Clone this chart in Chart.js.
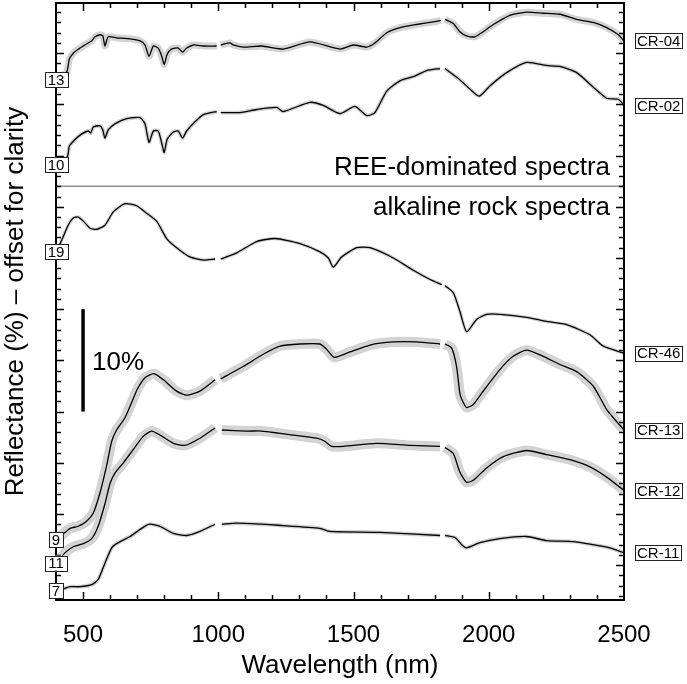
<!DOCTYPE html>
<html>
<head>
<meta charset="utf-8">
<script src="https://cdn.jsdelivr.net/npm/chart.js@4.4.1/dist/chart.umd.min.js"></script>
<style>
  html, body { margin: 0; padding: 0; background: #fff; }
  #wrap { width: 687px; height: 684px; position: relative; }
</style>
</head>
<body>
<div id="wrap"><canvas id="spectra"></canvas></div>
<script>
// wavelength (nm) and reflectance (%); null = detector splice gap
const cr04Wl = [400,440,449,464,489,519,532,544,563,573,581,593,624,674,711,729,744,760,778,791,800,811,827,852,868,883,908,945,994,1000,1009,1043,1055,1092,1160,1240,1339,1450,1499,1549,1579,1623,1672,1733,1807,1823,1830,1838,1869,1893,1918,1949,1974,2017,2078,2140,2201,2263,2325,2386,2436,2479,2500];
const cr04R = [12.6,13.4,14.6,15.2,15.7,16.2,16.4,16.8,17.0,16.9,15.9,16.8,16.7,16.6,16.4,16.0,14.9,15.9,15.7,14.9,14.1,15.1,15.6,15.7,15.3,15.7,16.0,15.9,15.9,null,16.0,16.2,16.0,15.8,15.9,15.6,16.3,15.6,16.0,15.8,16.2,17.2,17.7,18.0,18.3,18.4,null,18.5,18.1,17.3,16.9,16.8,17.2,18.0,18.9,19.2,19.1,19.0,18.5,18.2,17.7,17.0,16.4];

const cr02Wl = [400,442,449,464,489,519,528,538,563,573,581,593,618,661,711,729,744,760,778,791,800,811,834,852,868,883,914,945,994,1000,1009,1080,1142,1216,1240,1339,1388,1450,1505,1549,1579,1623,1672,1721,1770,1820,1830,1838,1893,1930,1965,2004,2066,2140,2214,2263,2325,2386,2436,2479,2500];
const cr02R = [9.8,10.6,11.6,12.1,12.7,13.1,12.9,13.5,13.6,13.2,12.4,13.2,13.8,14.3,14.4,13.8,12.0,13.1,13.1,11.9,11.0,12.3,13.0,13.1,12.4,13.1,14.0,14.7,15.0,null,14.9,14.9,15.2,15.4,15.0,15.9,15.6,14.8,15.5,14.6,14.9,17.0,18.0,18.4,19.0,19.2,null,19.2,18.1,17.2,16.5,17.5,18.8,19.8,19.5,19.4,18.8,17.4,16.3,16.2,15.6];

const cr46Wl = [400,417,427,445,464,482,501,526,550,581,612,655,698,729,772,809,846,895,945,988,1000,1009,1068,1142,1210,1302,1376,1407,1425,1456,1512,1561,1647,1721,1783,1826,1830,1838,1869,1893,1918,1955,1992,2041,2140,2214,2288,2374,2423,2500];
const cr46R = [19.0,19.9,20.5,21.6,22.3,22.4,22.0,21.3,21.2,21.6,22.9,23.7,23.5,22.9,22.0,20.3,19.4,18.5,18.2,18.3,null,18.3,18.9,20.0,20.3,19.8,19.0,18.4,17.5,18.5,19.4,19.4,18.4,17.2,16.3,15.8,null,15.7,15.0,13.2,11.2,12.4,12.9,12.9,12.6,12.2,11.9,10.9,9.8,9.1];

const cr13Wl = [400,433,452,482,513,538,563,587,606,624,655,680,701,729,762,797,846,883,932,988,1000,1009,1092,1166,1228,1302,1376,1400,1428,1475,1561,1647,1733,1820,1830,1838,1863,1881,1893,1900,1918,1943,1974,2041,2090,2140,2201,2263,2325,2386,2436,2500];
const cr13R = [9.0,9.7,10.1,10.3,10.8,11.6,13.6,16.2,18.6,19.7,20.9,22.4,23.7,24.8,25.2,24.6,23.5,23.1,23.5,24.6,null,24.7,25.9,27.1,27.9,28.1,28.1,27.6,26.8,27.2,28.0,28.3,28.3,28.1,null,28.1,27.7,25.9,23.3,22.7,21.9,22.2,23.3,25.6,26.9,27.5,26.9,26.1,25.4,24.0,21.7,19.7];

const cr12Wl = [400,437,464,501,532,556,581,600,618,649,686,723,754,785,834,877,932,988,1000,1013,1105,1160,1222,1277,1364,1394,1419,1462,1585,1709,1820,1830,1838,1869,1893,1918,1943,1992,2054,2140,2214,2300,2374,2436,2500];
const cr12R = [10.4,11.5,12.0,12.3,12.8,14.0,16.2,18.2,19.2,20.2,21.5,22.8,23.3,22.9,22.1,21.9,22.6,23.6,null,23.4,23.3,23.3,23.1,22.9,22.6,22.3,21.8,21.8,22.1,21.9,21.8,null,21.7,21.1,19.3,18.3,18.5,19.7,20.8,21.4,21.0,20.5,19.8,18.8,17.5];

const cr11Wl = [400,430,452,489,532,556,581,606,630,674,711,745,785,834,883,932,988,1000,1013,1068,1160,1222,1376,1413,1598,1820,1830,1838,1875,1900,1918,1967,2041,2140,2214,2312,2386,2448,2500];
const cr11R = [7.0,7.2,7.4,7.4,7.6,8.1,9.7,11.2,11.7,12.3,13.0,13.5,13.3,12.6,12.4,12.8,13.5,null,13.5,13.6,13.5,13.4,13.1,12.8,12.7,12.4,null,12.4,12.2,11.5,11.2,11.7,12.1,12.3,11.9,11.8,11.5,11.2,10.7];

const sampleNames = ['CR-04', 'CR-02', 'CR-46', 'CR-13', 'CR-12', 'CR-11'];
const startLabels = ['13', '10', '19', '9', '11', '7'];
const offsets = [39.8, 34.3, 16.6, -1.5, -5.2, -4.5];   // vertical offset for clarity
const xTickLabels = [500, 1000, 1500, 2000, 2500];
const separatorY = 42;
const scaleBarX = 500;
const scaleBar = [20, 30];   // 10 % reflectance

const wls = [cr04Wl, cr02Wl, cr46Wl, cr13Wl, cr12Wl, cr11Wl];
const refl = [cr04R, cr02R, cr46R, cr13R, cr12R, cr11R];
const bandWidth = [7, 4, 3.5, 10, 10, 4];   // grey std-dev envelope

function points(i) {
    return wls[i].map((w, k) => ({ x: w, y: refl[i][k] === null ? null : refl[i][k] + offsets[i] }));
}

const datasets = [];
sampleNames.forEach((name, i) => {
    datasets.push({ data: points(i), borderColor: '#d3d3d3', borderWidth: bandWidth[i], order: 3 });
    datasets.push({ data: points(i), borderColor: '#000', borderWidth: 1.3, order: 1 });
});
datasets.push({ data: [{ x: 400, y: separatorY }, { x: 2500, y: separatorY }], borderColor: '#8f8f8f', borderWidth: 1.5, tension: 0, order: 2 });
datasets.push({ data: [{ x: scaleBarX, y: scaleBar[0] }, { x: scaleBarX, y: scaleBar[1] }], borderColor: '#000', borderWidth: 3.5, tension: 0, order: 1 });

function boxLabel(ctx, text, x, y, align, pad) {
    const w = ctx.measureText(text).width + pad;
    const h = 15;
    const left = align === 'left' ? x : x - w / 2;
    ctx.fillStyle = '#fff';
    ctx.fillRect(left, y - h / 2, w, h);
    ctx.strokeStyle = '#222';
    ctx.lineWidth = 1;
    ctx.strokeRect(Math.round(left) + 0.5, Math.round(y - h / 2) + 0.5, Math.round(w), h);
    ctx.fillStyle = '#000';
    ctx.textAlign = 'center';
    ctx.fillText(text, left + w / 2, y + 1);
}

const decor = {
    id: 'decor',
    afterDatasetsDraw(chart) {
        const { ctx, chartArea: a } = chart;
        const x = chart.scales.x, y = chart.scales.y;
        ctx.save();

        // frame and inward ticks
        ctx.strokeStyle = '#000';
        ctx.lineWidth = 1.5;
        for (let w = 500; w < 2500; w += 100) {
            const px = Math.round(x.getPixelForValue(w)) + 0.5;
            const len = w % 500 === 0 ? 8 : 5;
            ctx.beginPath();
            ctx.moveTo(px, a.bottom); ctx.lineTo(px, a.bottom - len);
            ctx.moveTo(px, a.top); ctx.lineTo(px, a.top + len);
            ctx.stroke();
        }
        for (let v = Math.ceil(y.min); v <= Math.floor(y.max); v++) {
            const py = Math.round(y.getPixelForValue(v)) + 0.5;
            const len = v % 5 === 0 ? 8 : 5;
            ctx.beginPath();
            ctx.moveTo(a.left, py); ctx.lineTo(a.left + len, py);
            ctx.moveTo(a.right, py); ctx.lineTo(a.right - len, py);
            ctx.stroke();
        }
        ctx.lineWidth = 2;
        ctx.strokeRect(a.left, a.top, a.width, a.height);

        // boxed start values and sample names
        ctx.font = '15px "Liberation Sans", Arial, sans-serif';
        ctx.textBaseline = 'middle';
        sampleNames.forEach((name, i) => {
            const r = refl[i];
            const y0 = y.getPixelForValue(r[0] + offsets[i]);
            boxLabel(ctx, startLabels[i], x.getPixelForValue(wls[i][0]), y0, 'center', 6);
            const y1 = y.getPixelForValue(r[r.length - 1] + offsets[i]);
            boxLabel(ctx, name, a.right + 11, y1, 'left', 4);
        });

        // group captions and scale bar text
        ctx.font = '26px "Liberation Sans", Arial, sans-serif';
        ctx.fillStyle = '#000';
        ctx.textBaseline = 'alphabetic';
        ctx.textAlign = 'right';
        const sepPx = y.getPixelForValue(separatorY);
        ctx.fillText('REE-dominated spectra', a.right - 14, sepPx - 11);
        ctx.fillText('alkaline rock spectra', a.right - 14, sepPx + 29);
        ctx.textAlign = 'left';
        ctx.fillText('10%', x.getPixelForValue(scaleBarX) + 9, y.getPixelForValue((scaleBar[0] + scaleBar[1]) / 2) + 10);
        ctx.restore();
    }
};

Chart.defaults.font.family = '"Liberation Sans", Arial, sans-serif';
Chart.defaults.color = '#000';

new Chart(document.getElementById('spectra').getContext('2d'), {
    type: 'line',
    data: { datasets: datasets },
    options: {
        responsive: true,
        maintainAspectRatio: false,
        animation: false,
        spanGaps: false,
        layout: { padding: { top: 3, right: 63, left: 0, bottom: 0 } },
        elements: { point: { radius: 0 }, line: { tension: 0.2, borderCapStyle: 'butt' } },
        plugins: { legend: { display: false }, tooltip: { enabled: false } },
        scales: {
            x: {
                type: 'linear',
                min: 400,
                max: 2500,
                afterBuildTicks: s => { s.ticks = xTickLabels.map(v => ({ value: v })); },
                ticks: { font: { size: 24 }, color: '#000', padding: 21, maxRotation: 0, autoSkip: false, callback: v => String(v) },
                grid: { display: false, drawTicks: false },
                border: { display: false },
                title: { display: true, text: 'Wavelength (nm)', font: { size: 26 }, color: '#000', padding: { top: 0, bottom: 3 } },
                afterFit: s => { s.height = 84; }
            },
            y: {
                min: 1.6,
                max: 59.9,
                ticks: { display: false },
                grid: { display: false, drawTicks: false },
                border: { display: false },
                title: { display: true, text: 'Reflectance (%) – offset for clarity', font: { size: 26 }, color: '#000', padding: { top: 0, bottom: 0 } },
                afterFit: s => { s.width = 56; }
            }
        }
    },
    plugins: [decor]
});
</script>
</body>
</html>
